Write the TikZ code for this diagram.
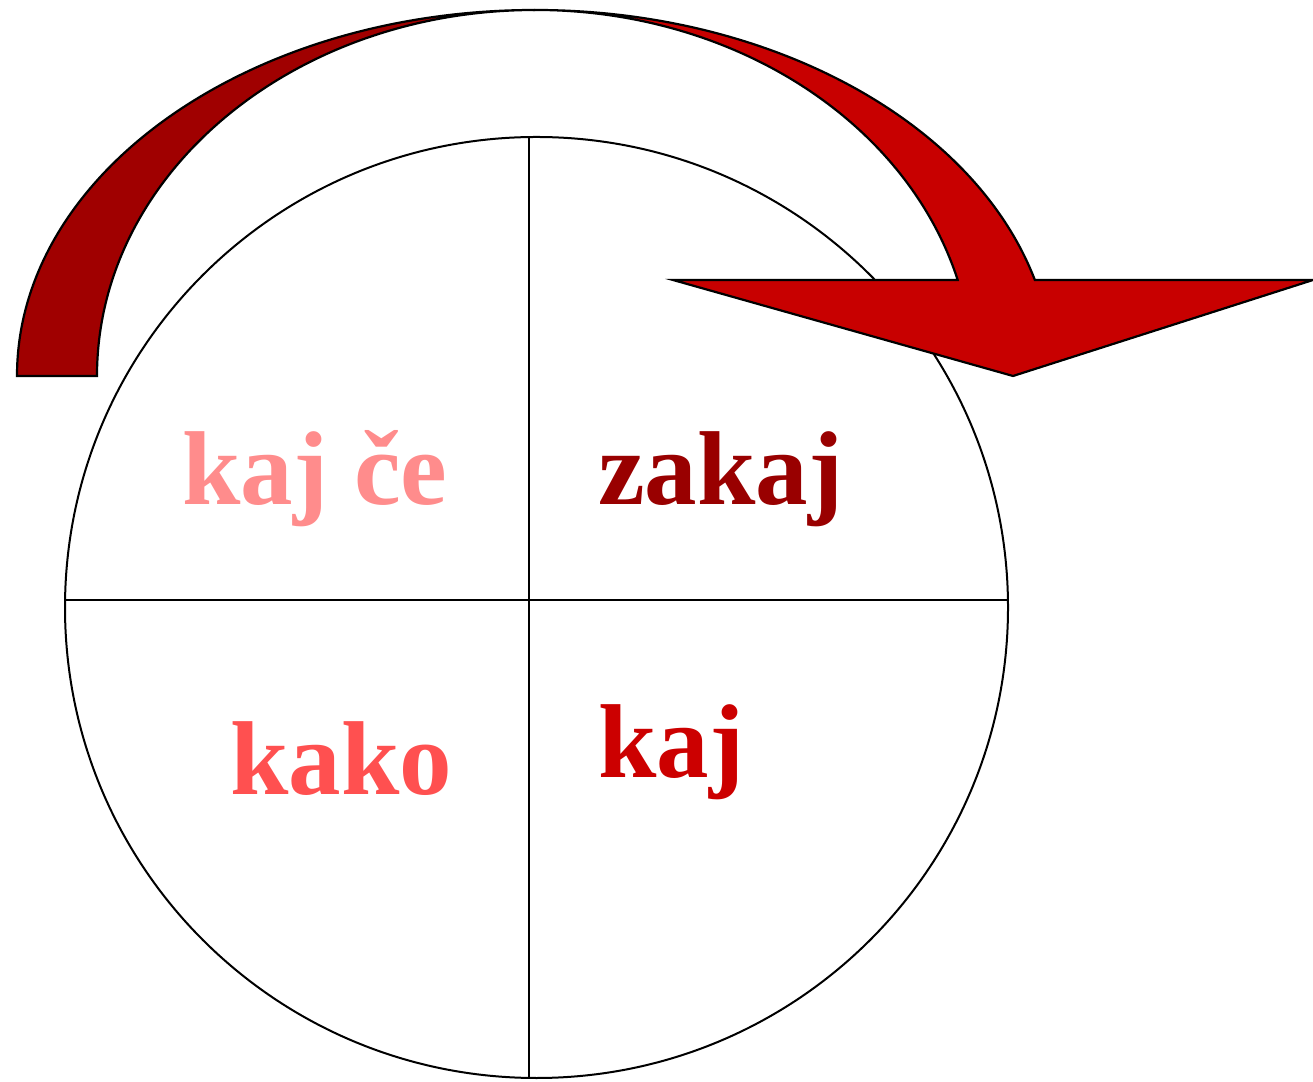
\documentclass[tikz,border=0pt]{standalone}
\usepackage{fontspec}
\setmainfont{Liberation Serif}
\usepackage{xcolor}
\definecolor{arrowdark}{RGB}{160,0,0}
\definecolor{arrowlight}{RGB}{200,0,0}
\definecolor{pale}{RGB}{255,140,140}
\definecolor{deep}{RGB}{153,0,0}
\definecolor{warm}{RGB}{255,80,80}
\definecolor{plain}{RGB}{204,0,0}
\tikzset{
  word/.style={anchor=base west, inner sep=0pt, font=\fontsize{105}{110}\selectfont\bfseries},
  band/.style={draw=black, line width=2.2pt, line join=miter}
}
\begin{document}
\begin{tikzpicture}[x=1pt,y=1pt]
\useasboundingbox (0,0) rectangle (1313,1081);
% circle split in four
\draw[line width=2pt] (536.5,473.5) ellipse [x radius=471.5, y radius=470.5];
\draw[line width=2pt] (529,944) -- (529,3);
\draw[line width=2pt] (65,481) -- (1008,481);
% words
\node[word, text=pale]  (kajce) at (182,576) {kaj če};
\node[word, text=deep]  (zakaj) at (598,576) {zakaj};
\node[word, text=warm]  (kako)  at (230,286) {kako};
\node[word, text=plain] (kaj)   at (598,303) {kaj};
% curved arrow, right half with head
\draw[band, fill=arrowlight] (535,1071)
  arc [start angle=90, end angle=15.2, x radius=518, y radius=366]
  -- (1313,801) -- (1013,705) -- (673,801) -- (957.7,801)
  arc [start angle=15.2, end angle=90, x radius=438, y radius=366] -- cycle;
% curved arrow, left half
\draw[band, fill=arrowdark] (17,705)
  arc [start angle=180, end angle=90, x radius=518, y radius=366]
  arc [start angle=90, end angle=180, x radius=438, y radius=366] -- cycle;
\end{tikzpicture}
\end{document}
